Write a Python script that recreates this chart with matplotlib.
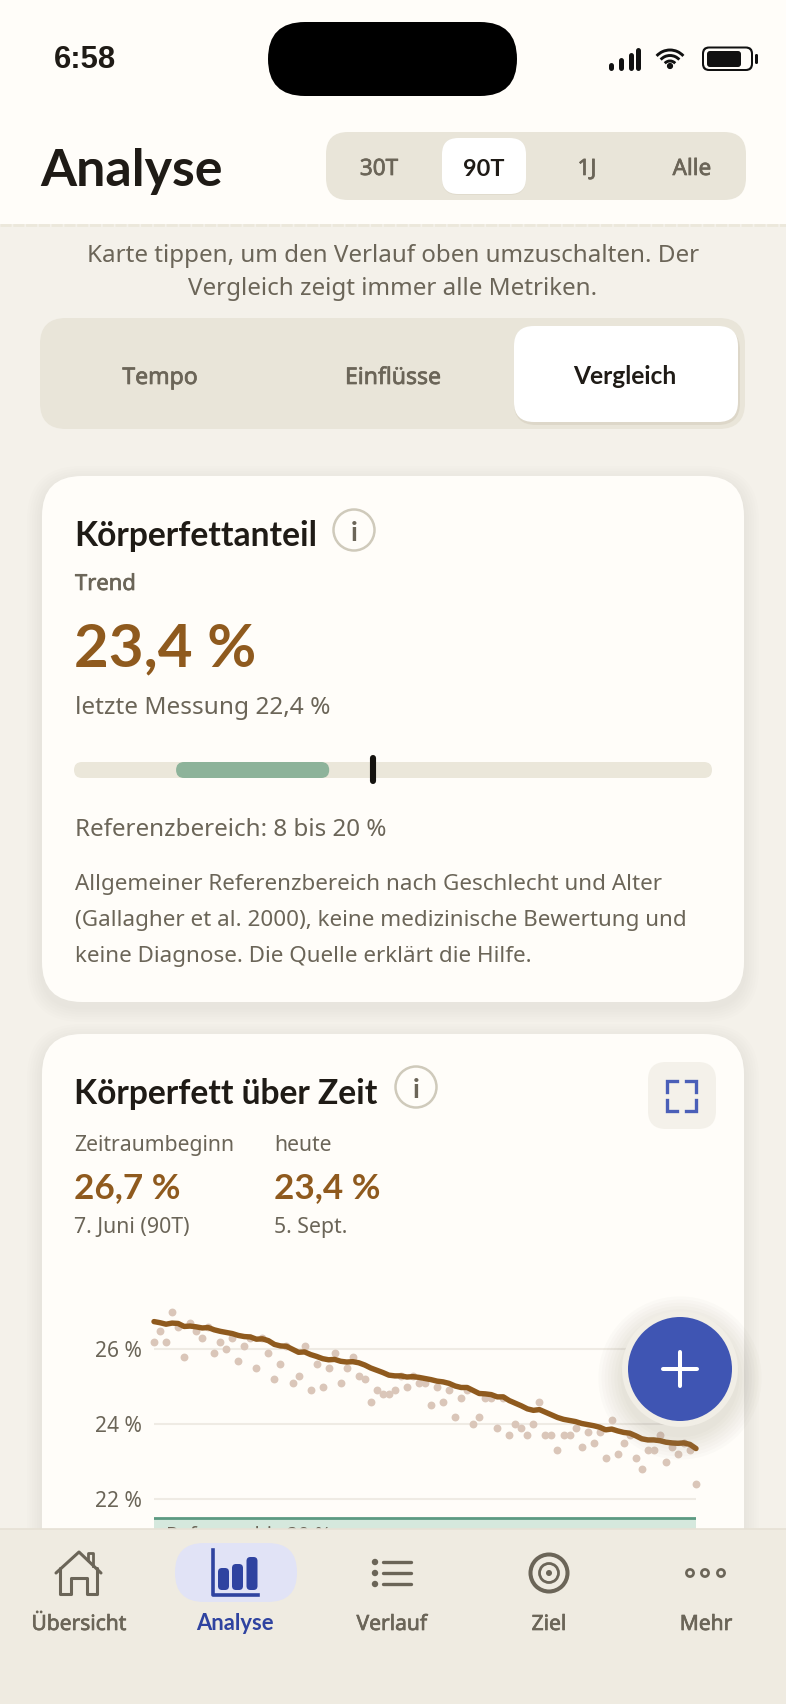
import matplotlib
matplotlib.use("Agg")
import matplotlib.pyplot as plt
import matplotlib.patheffects as pe
from matplotlib.patches import FancyBboxPatch, Circle, Arc

W, H = 786, 1704

# Koerperfett pro Tag
messwerte = [26.2, 26.5, 26.2, 27.0, 26.6, 25.8, 26.7, 26.5, 26.3, 26.6,
             25.9, 26.2, 26.0, 26.3, 25.7, 26.1, 26.3, 25.5, 26.3, 25.9,
             25.2, 25.6, 26.1, 25.1, 25.3, 26.1, 24.9, 25.6, 25.0, 25.5,
             25.9, 25.1, 25.5, 25.8, 25.3, 25.2, 24.6, 24.9, 24.8, 24.8,
             24.9, 25.3, 25.0, 25.3, 25.1, 25.1, 24.5, 25.0, 24.6, 24.9,
             24.2, 24.7, 24.9, 24.0, 24.2, 24.7, 24.7, 23.9, 24.7, 23.7,
             24.0, 23.9, 23.7, 24.0, 24.6, 23.7, 23.7, 23.3, 23.7, 23.7,
             23.9, 23.4, 23.8, 23.5, 23.8, 23.1, 24.1, 23.2, 23.5, 23.7,
             23.1, 22.8, 23.3, 23.3, 23.7, 23.0, 23.4, 23.2, 23.5, 23.3,
             22.4]
trend = [26.74, 26.71, 26.67, 26.70, 26.69, 26.61, 26.62, 26.60, 26.57, 26.58,
         26.52, 26.48, 26.45, 26.42, 26.37, 26.34, 26.33, 26.27, 26.28, 26.23,
         26.13, 26.09, 26.08, 26.00, 25.92, 25.93, 25.86, 25.81, 25.75, 25.72,
         25.73, 25.68, 25.66, 25.67, 25.64, 25.58, 25.50, 25.44, 25.38, 25.31,
         25.29, 25.29, 25.26, 25.27, 25.25, 25.22, 25.19, 25.15, 25.13, 25.09,
         25.02, 24.98, 24.98, 24.90, 24.82, 24.81, 24.79, 24.73, 24.73, 24.63,
         24.56, 24.49, 24.41, 24.37, 24.39, 24.32, 24.25, 24.18, 24.13, 24.10,
         24.07, 24.02, 23.99, 23.96, 23.92, 23.85, 23.87, 23.82, 23.78, 23.76,
         23.69, 23.61, 23.58, 23.58, 23.56, 23.52, 23.50, 23.49, 23.50, 23.46,
         23.35]
y_ticks = [22, 24, 26]
y_labels = ["22 %", "24 %", "26 %"]
ref_oben_chart = 21.5
ref_text = "Referenz bis 20 %"

# Balken in der ersten Karte
balken_min, balken_max = 0, 50
ref_von, ref_bis = 8, 20
aktuell = 23.4

perioden = ["30T", "90T", "1J", "Alle"]
perioden_x = [379, 484, 587, 692]
tabs = ["Tempo", "Einflüsse", "Vergleich"]
tabs_x = [160, 393, 625]
nav = ["Übersicht", "Analyse", "Verlauf", "Ziel", "Mehr"]
nav_x = [79, 235, 392, 549, 706]
beschreibung = ["Allgemeiner Referenzbereich nach Geschlecht und Alter",
                "(Gallagher et al. 2000), keine medizinische Bewertung und",
                "keine Diagnose. Die Quelle erklärt die Hilfe."]

BG = "#F4F1EA"
CARD = "#FFFDF9"
SEG = "#E9E5D9"
DARK = "#1F1B16"
GREY = "#6B6558"
BROWN = "#8F5A1E"
BLUE = "#3F55B3"
NAVY = "#2F43A0"
FONT = "Noto Sans"
BOLD = "Lato"

plt.rcParams["font.family"] = FONT

fig = plt.figure(figsize=(W / 100, H / 100), dpi=100, facecolor=BG)


def pixel_axes(zorder):
    a = fig.add_axes([0, 0, 1, 1], zorder=zorder)
    a.set_xlim(0, W)
    a.set_ylim(H, 0)
    a.axis("off")
    a.patch.set_alpha(0)
    return a


def rrect(a, x0, y0, x1, y1, r, color, alpha=1.0, z=1):
    p = FancyBboxPatch((x0 + r, y0 + r), x1 - x0 - 2 * r, y1 - y0 - 2 * r,
                       boxstyle=f"round,pad={r},rounding_size={r}",
                       fc=color, ec="none", alpha=alpha, zorder=z)
    a.add_patch(p)


def txt(a, x, y, s, px, color=GREY, weight="normal", ha="left", family=None, z=5):
    # medium gibt es nicht als schnitt, daher duenne kontur
    fam = family or (BOLD if weight == "bold" else FONT)
    t = a.text(x, y, s, fontsize=px * 0.72, color=color,
               fontweight="bold" if weight == "bold" else "normal", ha=ha,
               va="center_baseline", family=fam, zorder=z)
    if weight == "medium":
        t.set_path_effects([pe.withStroke(linewidth=0.5, foreground=color)])
    return t


def schatten(a, x0, y0, x1, y1, r, schritte=6, off=5):
    for i in range(schritte, 0, -1):
        rrect(a, x0 - i * 2.5, y0 - i * 2.5 + off, x1 + i * 2.5, y1 + i * 2.5 + off,
              r + i * 2.5, "#B8AF9A", alpha=0.022, z=1)


ui = pixel_axes(0)

# kopf
ui.fill_between([0, W], 0, 224, color=CARD, lw=0, zorder=1)
ui.plot([0, W], [225, 225], color="#ECE8DB", lw=2, ls=(0, (4, 0.6)), zorder=2)
rrect(ui, 268, 22, 517, 96, 37, "black", z=3)
txt(ui, 54, 57, "6:58", 31, DARK, "bold", family="Liberation Sans")
for x, y0 in zip([611, 621, 631, 638], [65, 60, 55, 50]):
    ui.plot([x, x], [y0, 68], color="#111111", lw=3.6, solid_capstyle="round", zorder=3)
for r, lw in [(7, 2.1), (12.5, 2.1), (18, 2.1)]:
    ui.add_patch(Arc((670, 68), r * 2, r * 2, theta1=222, theta2=318, color="#111111",
                     lw=lw, zorder=3))
ui.add_patch(Circle((670, 66), 2.4, color="#111111", zorder=3))
rrect(ui, 702, 46.5, 753, 71, 7, "#111111", z=3)
rrect(ui, 704, 48.5, 751, 69, 5.5, CARD, z=3)
rrect(ui, 707, 51, 741, 67, 3, "#111111", z=3)
rrect(ui, 755, 54, 758, 64, 1.4, "#111111", z=3)

txt(ui, 40, 167, "Analyse", 52, DARK, "bold")
rrect(ui, 326, 132, 746, 200, 22, SEG, z=2)
rrect(ui, 442, 138, 526, 195, 16, "#D8D2C2", alpha=0.5, z=2)
rrect(ui, 442, 138, 526, 194, 16, "white", z=3)
for lab, x in zip(perioden, perioden_x):
    sel = lab == "90T"
    txt(ui, x, 167, lab, 23.5 if sel else 22.5, DARK if sel else GREY, "bold" if sel else "medium", ha="center")

# hinweis
txt(ui, 393, 253, "Karte tippen, um den Verlauf oben umzuschalten. Der", 24.2, GREY, ha="center")
txt(ui, 393, 286, "Vergleich zeigt immer alle Metriken.", 24.2, GREY, ha="center")

rrect(ui, 40, 318, 745, 429, 26, SEG, z=2)
rrect(ui, 514, 328, 740, 425, 22, "#CFC8B6", alpha=0.45, z=2)
rrect(ui, 514, 326, 738, 422, 20, "white", z=3)
for lab, x in zip(tabs, tabs_x):
    sel = lab == "Vergleich"
    txt(ui, x, 375, lab, 24.5 if sel else 23, DARK if sel else GREY, "bold" if sel else "medium", ha="center")

# karte 1
schatten(ui, 42, 476, 744, 1002, 40)
rrect(ui, 42, 476, 744, 1002, 40, CARD, z=2)
txt(ui, 74, 533, "Körperfettanteil", 33.6, DARK, "bold")
ui.add_patch(Circle((354, 530), 20.5, fc=CARD, ec="#CFCABB", lw=1.8, zorder=3))
txt(ui, 354, 531, "i", 27, GREY, "bold", ha="center")
txt(ui, 75, 582, "Trend", 22, GREY, "medium")
txt(ui, 74, 644, "23,4 %", 60, BROWN, "bold")
txt(ui, 75, 705, "letzte Messung 22,4 %", 24.4, GREY)


def balken_x(v):
    return 74 + (v - balken_min) / (balken_max - balken_min) * (712 - 74)


rrect(ui, balken_x(balken_min), 762, balken_x(balken_max), 778, 8, "#EBE7DA", z=3)
rrect(ui, balken_x(ref_von), 762, balken_x(ref_bis), 778, 8, "#8DB39A", z=4)
ui.plot([balken_x(aktuell)] * 2, [758, 781], color="#15130F", lw=4.4,
        solid_capstyle="round", zorder=5)
txt(ui, 75, 827, f"Referenzbereich: {ref_von} bis {ref_bis} %", 24.2, GREY)
for zeile, y in zip(beschreibung, [882, 918, 954]):
    txt(ui, 75, y, zeile, 22.4, GREY)

# karte 2
schatten(ui, 42, 1034, 744, 1800, 40)
rrect(ui, 42, 1034, 744, 1800, 40, CARD, z=2)
txt(ui, 74, 1091, "Körperfett über Zeit", 33.6, DARK, "bold")
ui.add_patch(Circle((416, 1087), 20.5, fc=CARD, ec="#CFCABB", lw=1.8, zorder=3))
txt(ui, 416, 1088, "i", 27, GREY, "bold", ha="center")
rrect(ui, 648, 1062, 716, 1129, 18, BG, z=3)
for xs, ys in [([667, 667, 677], [1092, 1081, 1081]), ([686, 696, 696], [1081, 1081, 1092]),
               ([667, 667, 677], [1100, 1111, 1111]), ([686, 696, 696], [1111, 1111, 1100])]:
    ui.plot(xs, ys, color="#4A5FB8", lw=2.4, solid_joinstyle="miter", zorder=4)
txt(ui, 74, 1143, "Zeitraumbeginn", 21.2, GREY)
txt(ui, 274, 1143, "heute", 21.2, GREY)
txt(ui, 74, 1185, "26,7 %", 35, BROWN, "bold")
txt(ui, 274, 1185, "23,4 %", 35, BROWN, "bold")
txt(ui, 74, 1225, "7. Juni (90T)", 21.3, GREY)
txt(ui, 274, 1225, "5. Sept.", 21.3, GREY)

# chart
links, rechts, oben, unten = 154, 696, 1290, 1529
py_26, py_pro_prozent = 1349.3, 37.45
ax = fig.add_axes([links / W, 1 - unten / H, (rechts - links) / W, (unten - oben) / H], zorder=1)
ax.patch.set_alpha(0)
tage = list(range(len(messwerte)))
ax.set_xlim(0, len(messwerte) - 1)
ax.set_ylim(26 - (unten - py_26) / py_pro_prozent, 26 - (oben - py_26) / py_pro_prozent)
for s in ax.spines.values():
    s.set_visible(False)
ax.set_xticks([])
ax.set_yticks(y_ticks)
ax.set_yticklabels(y_labels, fontsize=21 * 0.72, color=GREY)
ax.tick_params(axis="y", length=0, pad=9)
ax.grid(axis="y", color="#EFEBE4", lw=1.5)
ax.set_axisbelow(True)
ax.axhspan(ax.get_ylim()[0], ref_oben_chart, color="#D5E8DD", lw=0, zorder=1)
ax.axhline(ref_oben_chart, color="#5C9A82", lw=2, zorder=2)
ax.text(2, ref_oben_chart - 0.22, ref_text, fontsize=20 * 0.72, color=GREY, va="top", zorder=2,
        clip_on=True)
ax.scatter(tage, messwerte, s=32, color="#DAC6B9", lw=0, clip_on=False, zorder=3)
ax.plot(tage, trend, color=BROWN, lw=3.9, solid_capstyle="round", solid_joinstyle="round",
        clip_on=False, zorder=4)

# alles was ueber dem chart liegt
top = pixel_axes(2)
for i in range(8, 0, -1):
    top.add_patch(Circle((680, 1378), 56 + i * 3.2, color="#8F8873", alpha=0.028, lw=0, zorder=1))
top.add_patch(Circle((680, 1369), 58, color="#F1EEE6", lw=0, zorder=2))
top.add_patch(Circle((680, 1369), 52, color=BLUE, lw=0, zorder=3))
top.plot([663, 697], [1369, 1369], color="white", lw=2.9, solid_capstyle="round", zorder=4)
top.plot([680, 680], [1352, 1386], color="white", lw=2.9, solid_capstyle="round", zorder=4)

top.fill_between([0, W], 1529, H, color="#EFEBE1", lw=0, zorder=6)
top.plot([0, W], [1529, 1529], color="#E6E1D5", lw=1.2, zorder=6)
rrect(top, 175, 1543, 297, 1602, 29, "#E1E3F6", z=7)
for lab, x in zip(nav, nav_x):
    sel = lab == "Analyse"
    txt(top, x, 1622, lab, 22 if sel else 21, NAVY if sel else GREY, "bold" if sel else "medium", ha="center", z=8)

ICON = "#6B6558"
# haus
top.plot([56, 79, 101], [1573, 1552, 1573], color=ICON, lw=2.2, solid_capstyle="round",
         solid_joinstyle="round", zorder=8)
top.plot([60, 60, 71, 71, 87, 87, 97, 97], [1568, 1594, 1594, 1578, 1578, 1594, 1594, 1568],
         color=ICON, lw=2.2, solid_joinstyle="round", solid_capstyle="round", zorder=8)
top.plot([88, 88, 93, 93], [1560, 1553, 1553, 1566], color=ICON, lw=2, zorder=8)
# balken icon
top.plot([213, 213, 258], [1550, 1595, 1595], color=NAVY, lw=2.6, solid_joinstyle="round", zorder=8)
for x0, y0 in [(218, 1568), (232, 1564), (246.5, 1557)]:
    rrect(top, x0, y0, x0 + 11, 1590, 4, NAVY, z=8)
# liste
for y in [1562, 1573, 1584]:
    top.add_patch(Circle((375, y), 3.2, color=ICON, lw=0, zorder=8))
    top.plot([383, 411], [y, y], color=ICON, lw=2.4, solid_capstyle="round", zorder=8)
# ziel
for r, lw in [(18.5, 2.9), (9.5, 2)]:
    top.add_patch(Circle((549, 1573), r, fc="none", ec=ICON, lw=lw, zorder=8))
top.add_patch(Circle((549, 1573), 3, color=ICON, lw=0, zorder=8))
# mehr
for x in [690, 705, 721]:
    top.add_patch(Circle((x, 1573), 3.6, fc="none", ec=ICON, lw=1.9, zorder=8))

fig.savefig("out.png", dpi=100, facecolor=BG)
